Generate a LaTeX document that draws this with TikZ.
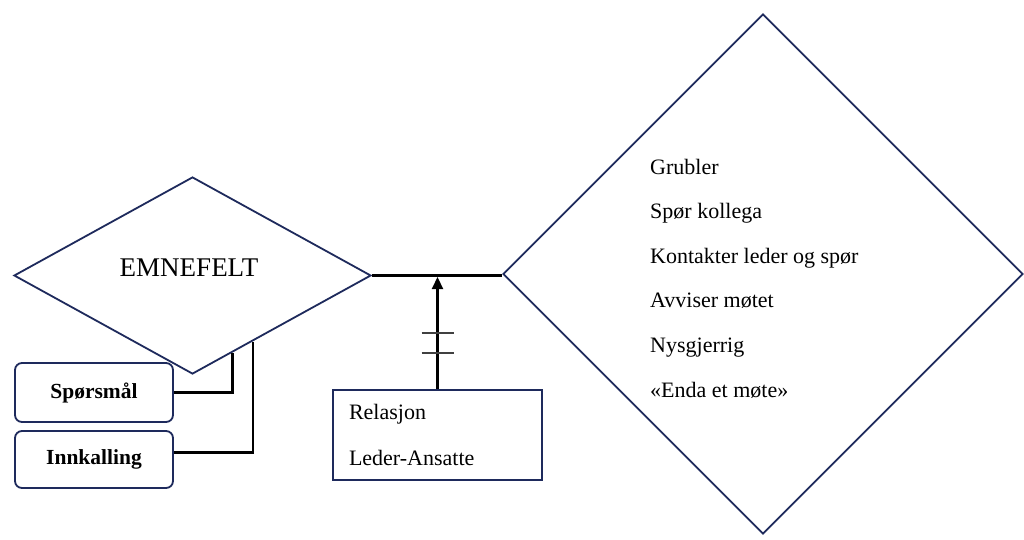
\documentclass[tikz,border=0pt]{standalone}
\usepackage{fontspec}
\setmainfont{Liberation Serif}
\usetikzlibrary{shapes.geometric,arrows.meta,calc}
\definecolor{navy}{HTML}{1E2A5C}
\begin{document}
\begin{tikzpicture}[x=1pt,y=-1pt,
  shapeline/.style={draw=navy, line width=1.8pt},
  dia/.style={shapeline, diamond, inner sep=0pt, shape aspect=1},
  rbox/.style={shapeline, rounded corners=7pt, minimum width=158pt, inner sep=0pt,
    font=\fontsize{21.5pt}{24pt}\selectfont\bfseries},
  conn/.style={draw=black, line width=2.2pt},
  tick/.style={draw=black!75, line width=1.4pt},
  lbl/.style={font=\fontsize{22pt}{44.6pt}\selectfont, align=left, inner sep=0pt}
]
\useasboundingbox[fill=white] (0,0) rectangle (1024,539);

% diamonds
\node[dia, minimum width=357pt, minimum height=197pt] (emne) at (192.5,275.5) {};
\node[font=\fontsize{27pt}{30pt}\selectfont] (emnetxt) at (189,268) {EMNEFELT};
\node[dia, minimum width=520pt, minimum height=520pt] (reak) at (763,274) {};
\node[lbl, anchor=west] (liste) at (650,278.5) {Grubler\\Spør kollega\\Kontakter leder og spør\\Avviser møtet\\Nysgjerrig\\«Enda et møte»};

% boxes
\node[rbox, minimum height=59pt] (sp) at (94,392.5) {Spørsmål};
\node[rbox, minimum height=57pt] (inn) at (94,459.5) {Innkalling};
\node[shapeline, minimum width=209pt, minimum height=90pt, text width=177pt,
  inner xsep=16pt, inner ysep=0pt, align=left,
  font=\fontsize{22pt}{46pt}\selectfont] (rel) at (437.5,435) {Relasjon\\Leder-Ansatte};

% connectors
\draw[conn, line width=2.8pt] (emne.east) -- (emne.east -| reak.west);
\coordinate (hit) at (rel.north |- emne.east);
\draw[conn, -{Triangle[length=12pt,width=11pt]}] (rel.north) -- ([yshift=-1.5pt]hit);
\draw[tick] ($(rel.north)+(-16,-56)$) -- ++(32,0);
\draw[tick] ($(rel.north)+(-16,-36)$) -- ++(32,0);
\draw[conn] (sp.east) -| ($(emne.east)!0.777!(emne.south)$);
\draw[conn] ([yshift=7pt]inn.east) -| ($(emne.east)!0.665!(emne.south)$);
\end{tikzpicture}
\end{document}
